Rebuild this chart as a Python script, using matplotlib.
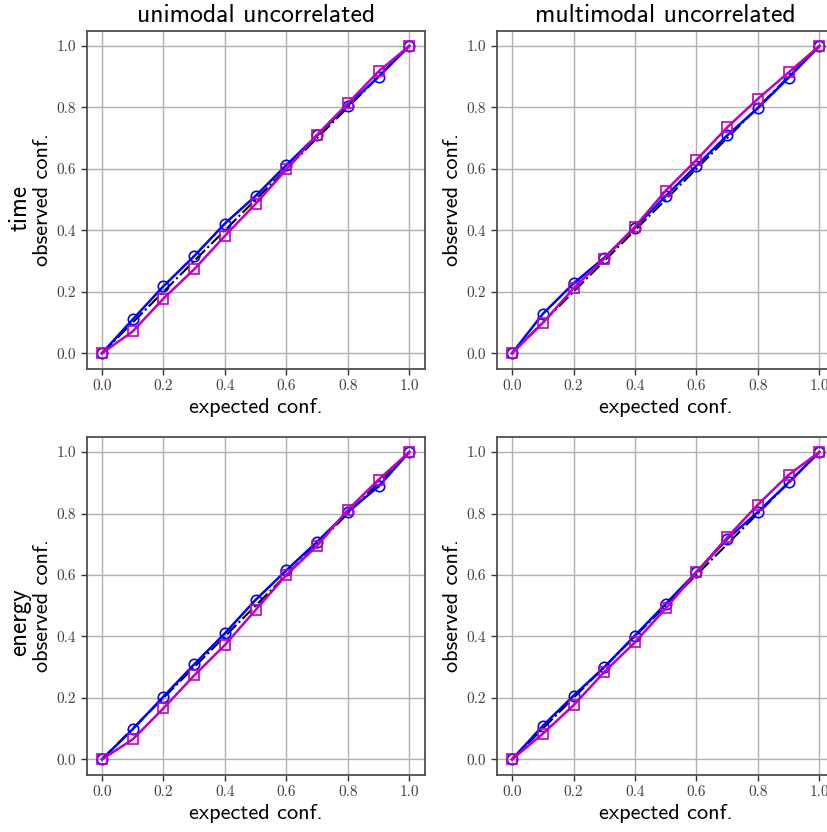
import numpy as np
import matplotlib
matplotlib.use("Agg")
import matplotlib.pyplot as plt

# expected confidence levels
expected = [0.0, 0.1, 0.2, 0.3, 0.4, 0.5, 0.6, 0.7, 0.8, 0.9, 1.0]

col_titles = ["unimodal uncorrelated", "multimodal uncorrelated"]
row_titles = ["time", "energy"]

# observed confidence, blue (circles) and magenta (squares)
time_uni_blue = [0.0, 0.110, 0.218, 0.316, 0.422, 0.512, 0.612, 0.709, 0.806, 0.900, 1.0]
time_uni_mag = [0.0, 0.071, 0.178, 0.273, 0.382, 0.486, 0.598, 0.711, 0.813, 0.917, 1.0]
time_multi_blue = [0.0, 0.128, 0.227, 0.311, 0.409, 0.512, 0.610, 0.709, 0.798, 0.897, 1.0]
time_multi_mag = [0.0, 0.099, 0.211, 0.308, 0.412, 0.529, 0.629, 0.735, 0.828, 0.914, 1.0]
energy_uni_blue = [0.0, 0.098, 0.204, 0.309, 0.410, 0.519, 0.615, 0.708, 0.805, 0.888, 1.0]
energy_uni_mag = [0.0, 0.065, 0.166, 0.273, 0.372, 0.486, 0.600, 0.695, 0.812, 0.910, 1.0]
energy_multi_blue = [0.0, 0.109, 0.207, 0.300, 0.403, 0.506, 0.609, 0.717, 0.805, 0.901, 1.0]
energy_multi_mag = [0.0, 0.083, 0.176, 0.284, 0.381, 0.491, 0.609, 0.722, 0.829, 0.926, 1.0]

panels = [
    [(time_uni_blue, time_uni_mag), (time_multi_blue, time_multi_mag)],
    [(energy_uni_blue, energy_uni_mag), (energy_multi_blue, energy_multi_mag)],
]

W, H = 828, 832
fig = plt.figure(figsize=(W / 100, H / 100), dpi=100)

# axes boxes in pixels: left, top, width, height
lefts = [86.6, 496.7]
tops = [30.6, 436.7]
aw, ah = 338.0, 338.0

sans = "cmss10"
serif = "cmr10"

for r in range(2):
    for c in range(2):
        ax = fig.add_axes([lefts[c] / W, (H - tops[r] - ah) / H, aw / W, ah / H])
        blue, mag = panels[r][c]
        ax.plot(expected, expected, "k-.", lw=1.5, zorder=2)
        ax.plot(expected, blue, "b-", marker="o", mfc="none", ms=7.5, mew=1.2, lw=1.8, zorder=3)
        ax.plot(expected, mag, "m-", marker="s", mfc="none", ms=7.5, mew=1.2, lw=1.8, zorder=4)
        ax.set_xlim(-0.05, 1.05)
        ax.set_ylim(-0.05, 1.05)
        ticks = [0.0, 0.2, 0.4, 0.6, 0.8, 1.0]
        ax.set_xticks(ticks)
        ax.set_yticks(ticks)
        ax.set_xticklabels(["%.1f" % t for t in ticks], fontfamily=serif, fontsize=11)
        ax.set_yticklabels(["%.1f" % t for t in ticks], fontfamily=serif, fontsize=11)
        ax.grid(True, color="#b0b0b0", lw=1.0)
        ax.set_axisbelow(True)
        for s in ax.spines.values():
            s.set_color("0.3")
            s.set_linewidth(1.3)
        ax.tick_params(length=4, width=1.0, color="0.2", labelcolor="0.25")
        ax.set_xlabel("expected conf.", fontfamily=sans, fontsize=16, labelpad=4)
        ax.set_ylabel("observed conf.", fontfamily=sans, fontsize=16, labelpad=3)
        if r == 0:
            ax.set_title(col_titles[c], fontfamily=sans, fontsize=18.5, pad=6)

# row labels at the far left
row_y = [208, 622]
for r in range(2):
    fig.text(20 / W, 1 - row_y[r] / H, row_titles[r], rotation=90, fontfamily=sans,
             fontsize=18, ha="center", va="center")

fig.savefig("out.png", dpi=100)
